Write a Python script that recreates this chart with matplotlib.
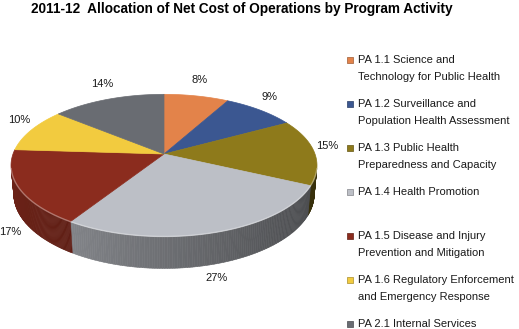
import numpy as np
import matplotlib
matplotlib.use("Agg")
import matplotlib.pyplot as plt
from matplotlib.patches import Polygon

# ---- data -------------------------------------------------------------
activities = [
    "PA 1.1 Science and\nTechnology for Public Health",
    "PA 1.2 Surveillance and\nPopulation Health Assessment",
    "PA 1.3 Public Health\nPreparedness and Capacity",
    "PA 1.4 Health Promotion",
    "PA 1.5 Disease and Injury\nPrevention and Mitigation",
    "PA 1.6 Regulatory Enforcement\nand Emergency Response",
    "PA 2.1 Internal Services",
]
shares = [8, 9, 15, 27, 17, 10, 14]
colors = ["#E3834A", "#3B5791", "#8E7A1B", "#BCBFC6", "#8B2C1E", "#F2CB3F", "#696C72"]
title = "2011-12  Allocation of Net Cost of Operations by Program Activity"

# ---- figure -----------------------------------------------------------
W, H = 519, 329
fig = plt.figure(figsize=(W / 100, H / 100), dpi=100)
ax = fig.add_axes([0, 0, 1, 1])
ax.set_xlim(0, W)
ax.set_ylim(H, 0)
ax.axis("off")

FONT = "Liberation Sans"

# perspective view of a flat cylinder (unit radius)
cx, cy = 164.0, 154.0
F, D = 835.0, 5.53
elev = np.radians(27.3)
ce, se = np.cos(elev), np.sin(elev)
thick = 0.215


def proj(x, z, u):
    w = D + z * ce - u * se
    return cx + F * x / w, cy - F * (z * se + u * ce) / w


fractions = np.array(shares, dtype=float) / np.sum(shares)
ends = 90.0 - 360.0 * np.cumsum(fractions)
starts = np.concatenate([[90.0], ends[:-1]])

# side wall (only the part facing the viewer)
vis_limit = -1.0 / (D * ce)
for a0, a1, col in zip(starts, ends, colors):
    t = np.radians(np.linspace(a0, a1, 120))
    base = np.array(matplotlib.colors.to_rgb(col))
    for i in range(len(t) - 1):
        tm = 0.5 * (t[i] + t[i + 1])
        if np.sin(tm) >= vis_limit:
            continue
        shade = np.clip(0.58 + 0.2 * (-np.cos(tm)), 0, 1)
        c = np.clip(base * shade, 0, 1)
        p1 = proj(np.cos(t[i]), np.sin(t[i]), 0)
        p2 = proj(np.cos(t[i + 1]), np.sin(t[i + 1]), 0)
        p3 = proj(np.cos(t[i + 1]), np.sin(t[i + 1]), -thick)
        p4 = proj(np.cos(t[i]), np.sin(t[i]), -thick)
        ax.add_patch(Polygon([p1, p2, p3, p4], closed=True, facecolor=c,
                             edgecolor=c, linewidth=0.4, zorder=1))

# top face
for a0, a1, col in zip(starts, ends, colors):
    t = np.radians(np.linspace(a0, a1, 200))
    pts = [proj(0, 0, 0)] + [proj(np.cos(a), np.sin(a), 0) for a in t]
    ax.add_patch(Polygon(pts, closed=True, facecolor=col, edgecolor=col,
                         linewidth=0.5, zorder=2))

# soft highlight along the front rim
tr = np.radians(np.linspace(-12, -168, 200))
rim = np.array([proj(np.cos(a), np.sin(a), 0) for a in tr])
ax.plot(rim[:, 0], rim[:, 1], color="white", alpha=0.35, linewidth=1.0, zorder=3)

# percentage labels
for a0, a1, val in zip(starts, ends, shares):
    m = np.radians(0.5 * (a0 + a1))
    if np.sin(m) > -0.2:
        px, py = proj(np.cos(m), np.sin(m), 0)
        px += 13 * np.cos(m)
        py += -10 * np.sin(m) - 6
    else:
        px, py = proj(np.cos(m), np.sin(m), -thick)
        px += 13 * np.cos(m)
        py += 14
    ax.text(px, py, f"{val}%", fontsize=8, family=FONT, color="#1a1a1a",
            ha="center", va="center", zorder=4)

# legend
leg_x, leg_y0, leg_step, line_step = 349.5, 60.0, 44.0, 16.7
for i, (lab, col) in enumerate(zip(activities, colors)):
    y = leg_y0 + i * leg_step
    ax.scatter([leg_x], [y], marker="s", s=16, color=col,
               edgecolors=np.clip(np.array(matplotlib.colors.to_rgb(col)) * 0.7, 0, 1),
               linewidths=0.5, zorder=4)
    for j, line in enumerate(lab.split("\n")):
        ax.text(leg_x + 8.5, y + j * line_step, line, fontsize=8, family=FONT,
                color="#1a1a1a", ha="left", va="center", zorder=4)

ax.text(242, 8.5, title, fontsize=9.8, family=FONT, fontweight="bold",
        color="black", ha="center", va="center")

fig.savefig("out.png", dpi=100)
